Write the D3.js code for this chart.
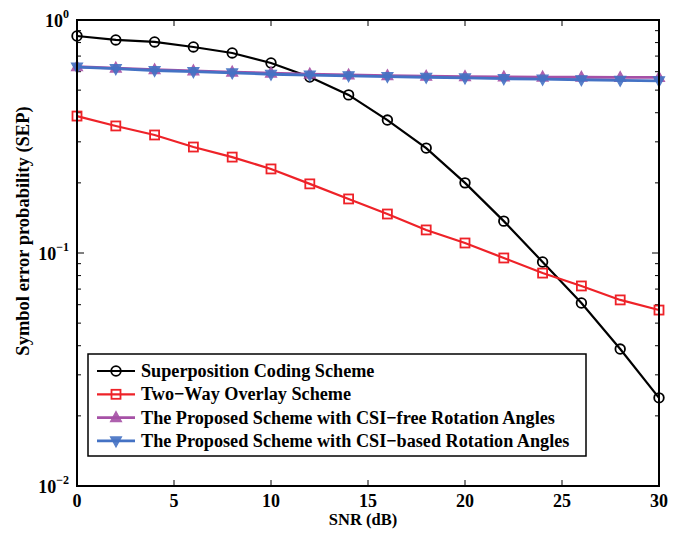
<!DOCTYPE html>
<html><head><meta charset="utf-8">
<script src="https://cdn.jsdelivr.net/npm/d3@7"></script>
<style>body{margin:0;background:#fff}svg{display:block}</style>
</head><body><div id="c"></div>
<script>
const snr = [0,2,4,6,8,10,12,14,16,18,20,22,24,26,28,30];
const superposition = [0.854,0.821,0.805,0.766,0.722,0.654,0.569,0.477,0.372,0.282,0.200,0.137,0.0915,0.061,0.0387,0.0239];
const twoWay = [0.387,0.351,0.321,0.285,0.258,0.2295,0.198,0.1706,0.147,0.1256,0.1104,0.0952,0.082,0.0722,0.0629,0.0569];
const csiFree = [0.630,0.622,0.612,0.605,0.598,0.592,0.586,0.581,0.577,0.574,0.572,0.570,0.569,0.568,0.567,0.567];
const csiBased = [0.628,0.618,0.607,0.600,0.593,0.585,0.580,0.576,0.572,0.568,0.564,0.560,0.557,0.554,0.551,0.548];
const xTicks = [0,5,10,15,20,25,30];
const yTicks = [1e-2,1e-1,1];
const yExps = ["\u22122","\u22121","0"];
const seriesNames = ["Superposition Coding Scheme","Two\u2212Way Overlay Scheme","The Proposed Scheme with CSI\u2212free Rotation Angles","The Proposed Scheme with CSI\u2212based Rotation Angles"];
const colors = ["#000000","#ee2228","#a651a6","#4472c4"];
const markers = ["circle","square","up","down"];

const FONT='"Liberation Serif","Times New Roman",serif';
const W=679,H=533, L=77,R=659,T=20,B=486;
const svg=d3.select("#c").append("svg").attr("width",W).attr("height",H)
  .attr("font-family",FONT).attr("font-weight","bold");
const x=d3.scaleLinear().domain([0,30]).range([L,R]);
const y=d3.scaleLog().domain([1e-2,1]).range([B,T]);

const minors=[];
for(let e=-2;e<0;e++) for(let m=2;m<=9;m++) minors.push(m*Math.pow(10,e));
const g=svg.append("g");
minors.forEach(v=>{
  g.append("line").attr("x1",L).attr("x2",L+4).attr("y1",y(v)).attr("y2",y(v)).attr("stroke","#000").attr("stroke-width",1);
  g.append("line").attr("x1",R).attr("x2",R-4).attr("y1",y(v)).attr("y2",y(v)).attr("stroke","#000").attr("stroke-width",1);
});
yTicks.forEach(v=>{
  g.append("line").attr("x1",L).attr("x2",L+7).attr("y1",y(v)).attr("y2",y(v)).attr("stroke","#000").attr("stroke-width",1);
  g.append("line").attr("x1",R).attr("x2",R-7).attr("y1",y(v)).attr("y2",y(v)).attr("stroke","#000").attr("stroke-width",1);
});
xTicks.forEach(v=>{
  g.append("line").attr("x1",x(v)).attr("x2",x(v)).attr("y1",B).attr("y2",B-6).attr("stroke","#000").attr("stroke-width",1);
  g.append("line").attr("x1",x(v)).attr("x2",x(v)).attr("y1",T).attr("y2",T+6).attr("stroke","#000").attr("stroke-width",1);
  g.append("text").attr("x",x(v)).attr("y",B+21).attr("text-anchor","middle").attr("font-size",18).text(v);
});
yTicks.forEach((v,i)=>{
  const t=g.append("text").attr("x",L-8).attr("y",y(v)+7).attr("text-anchor","end").attr("font-size",18);
  t.append("tspan").text("10");
  t.append("tspan").attr("dy",-9).attr("font-size",12).text(yExps[i]);
});

const data=[superposition,twoWay,csiFree,csiBased];
const line=d3.line().x((d,i)=>x(snr[i])).y(d=>y(d));
function drawMarker(sel,type,cx,cy,col){
  if(type==="circle") sel.append("circle").attr("cx",cx).attr("cy",cy).attr("r",4.8).attr("fill","none").attr("stroke",col).attr("stroke-width",1.8);
  else if(type==="square") sel.append("rect").attr("x",cx-4.5).attr("y",cy-4.5).attr("width",9).attr("height",9).attr("fill","none").attr("stroke",col).attr("stroke-width",1.8);
  else if(type==="up") sel.append("path").attr("d",`M${cx},${cy-6}L${cx+5.5},${cy+4}L${cx-5.5},${cy+4}Z`).attr("fill",col).attr("stroke",col).attr("stroke-width",1.2).attr("opacity",0.9);
  else sel.append("path").attr("d",`M${cx},${cy+6}L${cx+5.5},${cy-4}L${cx-5.5},${cy-4}Z`).attr("fill",col).attr("stroke",col).attr("stroke-width",1.2).attr("opacity",0.9);
}
const plot=svg.append("g");
data.forEach((s,k)=>{
  plot.append("path").attr("d",line(s)).attr("fill","none").attr("stroke",colors[k]).attr("stroke-width",k>=2?2.8:2.2);
  s.forEach((v,i)=>drawMarker(plot,markers[k],x(snr[i]),y(v),colors[k]));
});

svg.append("rect").attr("x",L).attr("y",T).attr("width",R-L).attr("height",B-T).attr("fill","none").attr("stroke","#000").attr("stroke-width",2);

const lg=svg.append("g");
lg.append("rect").attr("x",88).attr("y",354).attr("width",498).attr("height",102).attr("fill","#fff").attr("stroke","#000").attr("stroke-width",1.5);
seriesNames.forEach((n,k)=>{
  const yy=371+k*23.3;
  lg.append("line").attr("x1",97).attr("x2",135).attr("y1",yy).attr("y2",yy).attr("stroke",colors[k]).attr("stroke-width",k>=2?2.8:2.2);
  drawMarker(lg,markers[k],116,yy,colors[k]);
  lg.append("text").attr("x",141).attr("y",yy+6).attr("font-size",18.2).text(n);
});

svg.append("text").attr("x",363).attr("y",525).attr("text-anchor","middle").attr("font-size",16.5).text("SNR (dB)");
svg.append("text").attr("transform",`translate(29,231) rotate(-90)`).attr("text-anchor","middle").attr("font-size",18.5).text("Symbol error probability (SEP)");
</script></body></html>
